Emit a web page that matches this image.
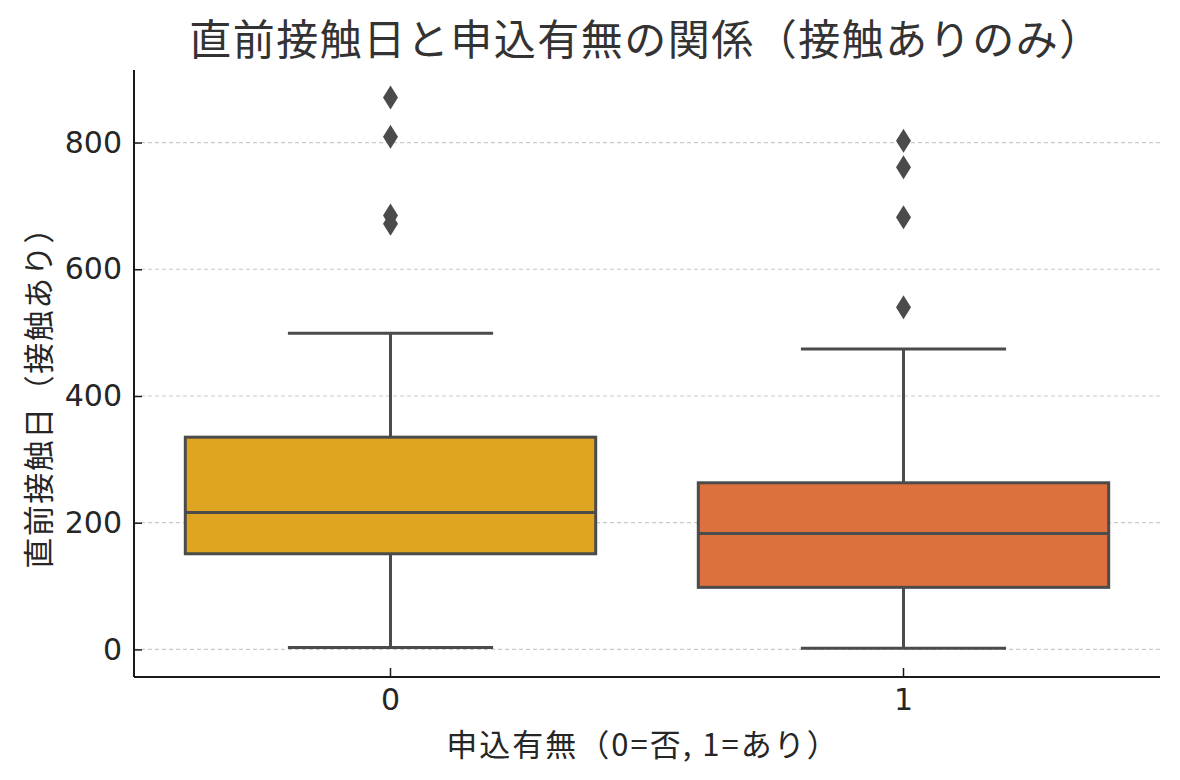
<!DOCTYPE html>
<html lang="ja">
  <head>
    <meta charset="UTF-8" />
    <title>直前接触日と申込有無の関係</title>
    <style>
      body {
        margin: 0;
        background: #ffffff;
      }
      text {
        font-family: "Noto Sans CJK JP", "Noto Sans", sans-serif;
        fill: #262626;
      }
    </style>
  </head>
  <body>
    <div id="chart"></div>

    <script src="https://cdn.jsdelivr.net/npm/d3@7"></script>

    <script>
      ///////////////////////////////////////////////////////////////////////////
      ////////////////////////////////// Data ///////////////////////////////////
      ///////////////////////////////////////////////////////////////////////////

      var categories = ["0", "1"];
      var boxColors = ["#dfa421", "#dc713d"];
      var whiskerLow = [3, 2];
      var quartile1 = [151, 98];
      var medians = [216, 183];
      var quartile3 = [335, 263];
      var whiskerHigh = [499, 474];
      var outliers0 = [871, 809, 685, 672];
      var outliers1 = [803, 761, 682, 540];
      var yTicks = [0, 200, 400, 600, 800];

      var titleText = "直前接触日と申込有無の関係（接触ありのみ）";
      var xLabel = "申込有無（0=否, 1=あり）";
      var yLabel = "直前接触日（接触あり）";

      var boxes = categories.map(function(c, i) {
        return {
          cat: c,
          color: boxColors[i],
          lo: whiskerLow[i],
          q1: quartile1[i],
          med: medians[i],
          q3: quartile3[i],
          hi: whiskerHigh[i],
          outliers: [outliers0, outliers1][i]
        };
      });

      ///////////////////////////////////////////////////////////////////////////
      //////////////////////////////// Set up svg ///////////////////////////////
      ///////////////////////////////////////////////////////////////////////////

      var W = 1180,
        H = 780;
      var margin = { top: 70, right: 20, bottom: 103, left: 134 };
      var width = W - margin.left - margin.right,
        height = H - margin.top - margin.bottom;

      var svg = d3
        .select("#chart")
        .append("svg")
        .attr("width", W)
        .attr("height", H);

      var g = svg
        .append("g")
        .attr("transform", "translate(" + margin.left + "," + margin.top + ")");

      var x = d3
        .scaleBand()
        .domain(categories)
        .range([0, width])
        .padding(0);

      var y = d3
        .scaleLinear()
        .domain([-43.5, 914.5])
        .range([height, 0]);

      //Grid lines
      g.append("g")
        .selectAll("line")
        .data(yTicks)
        .enter()
        .append("line")
        .attr("x1", 0)
        .attr("x2", width)
        .attr("y1", function(d) {
          return y(d);
        })
        .attr("y2", function(d) {
          return y(d);
        })
        .style("stroke", "#c9c9c9")
        .style("stroke-width", 1.2)
        .style("stroke-dasharray", "4,3");

      ///////////////////////////////////////////////////////////////////////////
      ///////////////////////////////// Boxes ///////////////////////////////////
      ///////////////////////////////////////////////////////////////////////////

      var edge = "#4b4b4b",
        lw = 3;
      var boxW = x.bandwidth() * 0.8;

      var box = g
        .selectAll(".box")
        .data(boxes)
        .enter()
        .append("g")
        .attr("class", "box")
        .attr("transform", function(d) {
          return "translate(" + (x(d.cat) + x.bandwidth() / 2) + ",0)";
        });

      //whisker lines
      box
        .append("line")
        .attr("x1", 0)
        .attr("x2", 0)
        .attr("y1", function(d) {
          return y(d.hi);
        })
        .attr("y2", function(d) {
          return y(d.q3);
        })
        .style("stroke", edge)
        .style("stroke-width", lw);
      box
        .append("line")
        .attr("x1", 0)
        .attr("x2", 0)
        .attr("y1", function(d) {
          return y(d.q1);
        })
        .attr("y2", function(d) {
          return y(d.lo);
        })
        .style("stroke", edge)
        .style("stroke-width", lw);

      //caps
      ["hi", "lo"].forEach(function(k) {
        box
          .append("line")
          .attr("x1", -boxW / 4)
          .attr("x2", boxW / 4)
          .attr("y1", function(d) {
            return y(d[k]);
          })
          .attr("y2", function(d) {
            return y(d[k]);
          })
          .style("stroke", edge)
          .style("stroke-width", lw);
      });

      box
        .append("rect")
        .attr("x", -boxW / 2)
        .attr("width", boxW)
        .attr("y", function(d) {
          return y(d.q3);
        })
        .attr("height", function(d) {
          return y(d.q1) - y(d.q3);
        })
        .style("fill", function(d) {
          return d.color;
        })
        .style("stroke", edge)
        .style("stroke-width", lw);

      box
        .append("line")
        .attr("x1", -boxW / 2)
        .attr("x2", boxW / 2)
        .attr("y1", function(d) {
          return y(d.med);
        })
        .attr("y2", function(d) {
          return y(d.med);
        })
        .style("stroke", edge)
        .style("stroke-width", lw);

      //outliers as diamonds
      var diamond = "M0,-12L7.5,0L0,12L-7.5,0Z";
      box
        .selectAll(".flier")
        .data(function(d) {
          return d.outliers;
        })
        .enter()
        .append("path")
        .attr("class", "flier")
        .attr("d", diamond)
        .attr("transform", function(v) {
          return "translate(0," + y(v) + ")";
        })
        .style("fill", edge);

      ///////////////////////////////////////////////////////////////////////////
      ///////////////////////////////// Axes ////////////////////////////////////
      ///////////////////////////////////////////////////////////////////////////

      var yAxis = g
        .append("g")
        .call(
          d3
            .axisLeft(y)
            .tickValues(yTicks)
            .tickSize(-8)
            .tickPadding(12)
        );
      var xAxis = g
        .append("g")
        .attr("transform", "translate(0," + height + ")")
        .call(
          d3
            .axisBottom(x)
            .tickSize(-9)
            .tickPadding(9)
        );

      [yAxis, xAxis].forEach(function(a) {
        a.select(".domain")
          .style("stroke", "#1a1a1a")
          .style("stroke-width", 2);
        a.selectAll(".tick line")
          .style("stroke", "#1a1a1a")
          .style("stroke-width", 1.5);
        a.selectAll(".tick text")
          .style("font-family", '"DejaVu Sans", sans-serif')
          .style("font-size", "30px")
          .style("fill", "#262626");
      });
      //straight spines without end caps
      yAxis.select(".domain").attr("d", "M0,0V" + height);
      xAxis.select(".domain").attr("d", "M0,0H" + width);
      xAxis.selectAll(".tick text").attr("dy", "0.8em");

      ///////////////////////////////////////////////////////////////////////////
      ///////////////////////////////// Labels //////////////////////////////////
      ///////////////////////////////////////////////////////////////////////////

      svg
        .append("text")
        .attr("x", 646)
        .attr("y", 55)
        .attr("text-anchor", "middle")
        .style("font-size", "42px")
        .style("letter-spacing", "1.5px")
        .style("fill", "#333333")
        .text(titleText);

      svg
        .append("text")
        .attr("x", 643)
        .attr("y", 756)
        .attr("text-anchor", "middle")
        .style("font-size", "31px")
        .style("letter-spacing", "2px")
        .text(xLabel);

      svg
        .append("text")
        .attr("transform", "translate(50,390) rotate(-90)")
        .attr("text-anchor", "middle")
        .style("font-size", "31px")
        .style("letter-spacing", "1.5px")
        .text(yLabel);
    </script>
  </body>
</html>
